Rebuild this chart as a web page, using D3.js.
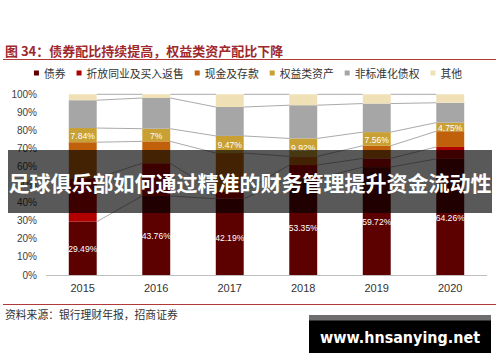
<!DOCTYPE html>
<html><head><meta charset="utf-8">
<script src="https://cdn.jsdelivr.net/npm/d3@7"></script>
<style>html,body{margin:0;padding:0;background:#fff;}svg{display:block;}</style>
</head><body>
<svg id="chart" width="500" height="362"></svg>
<script>
const years = ["2015","2016","2017","2018","2019","2020"];
const seriesNames = ["债券","折放同业及买入返售","现金及存款","权益类资产","非标准化债权","其他"];
const seriesColors = ["#5c0000","#b00000","#c0600a","#c9a033","#a6a6a6","#efe0b6"];
const bonds       = [29.49, 43.76, 42.19, 53.35, 59.72, 64.26];
const interbank   = [24.1, 18.1, 3.8, 7.5, 4.8, 6.6];
const cash        = [19.9, 12.1, 21.5, 4.8, 7.0, 8.7];
const equity      = [7.84, 7.0, 9.47, 9.92, 7.56, 4.75];
const nonStandard = [15.4, 17.0, 16.0, 18.4, 15.8, 11.0];
const others      = [3.27, 2.04, 7.04, 6.03, 5.12, 4.69];
const bondLabels   = ["29.49%","43.76%","42.19%","53.35%","59.72%","64.26%"];
const equityLabels = ["7.84%","7%","9.47%","9.92%","7.56%","4.75%"];
const yTicks = [0,10,20,30,40,50,60,70,80,90,100];
const titleText = "图 34：债券配比持续提高，权益类资产配比下降";
const sourceText = "资料来源：银行理财年报，招商证券";
const overlayText = "足球俱乐部如何通过精准的财务管理提升资金流动性";
const watermarkText = "www.hnsanying.net";

const svg = d3.select("#chart");
const seriesArrays = [bonds, interbank, cash, equity, nonStandard, others];
const rows = years.map((y,i)=>{
  const r = {year:y};
  seriesNames.forEach((s,k)=>r[s]=seriesArrays[k][i]);
  return r;
});
const stack = d3.stack().keys(seriesNames)(rows);

const x = d3.scaleBand().domain(years).range([46,487]).paddingInner(0.62).paddingOuter(0.31);
const y = d3.scaleLinear().domain([0,100]).range([275,94.3]);

// title
svg.append("text").attr("x",5).attr("y",50).attr("dominant-baseline","central")
  .attr("font-family","'Noto Sans CJK SC'").attr("font-weight","bold").attr("font-size",13)
  .attr("fill","#a0282c").text(titleText);
svg.append("line").attr("x1",3).attr("x2",496).attr("y1",59.5).attr("y2",59.5)
  .attr("stroke","#b03a3a").attr("stroke-width",1.2);

// legend
const lg = svg.append("g");
let lx = 0;
const items = [];
seriesNames.forEach((s,k)=>{
  const g = lg.append("g").attr("transform",`translate(${lx},0)`);
  g.append("rect").attr("x",0).attr("y",-2.5).attr("width",5).attr("height",5).attr("fill",seriesColors[k]);
  const t = g.append("text").attr("x",10).attr("y",0).attr("dominant-baseline","central")
    .attr("font-family","'Noto Sans CJK SC'").attr("font-size",10.8).attr("fill","#333").text(s);
  const w = t.node().getComputedTextLength();
  lx += 10 + w + 11;
});
const totalW = lx - 11;
lg.attr("transform",`translate(${248 - totalW/2},73)`);

// y axis labels
svg.append("g").selectAll("text").data(yTicks).join("text")
  .attr("x",37).attr("y",d=>y(d)).attr("text-anchor","end").attr("dominant-baseline","central")
  .attr("font-family","'Liberation Sans', Arial").attr("font-size",10).attr("fill","#404040")
  .text(d=>d+"%");

// bars
const layers = svg.append("g").selectAll("g").data(stack).join("g")
  .attr("fill",(d,k)=>seriesColors[k]);
layers.selectAll("rect").data(d=>d).join("rect")
  .attr("x",d=>x(d.data.year)).attr("width",x.bandwidth())
  .attr("y",d=>y(d[1])).attr("height",d=>y(d[0])-y(d[1]));

// series lines
const lineG = svg.append("g").attr("stroke","#a0a0a0").attr("stroke-width",0.9).attr("fill","none");
stack.forEach(layer=>{
  for(let i=0;i<years.length-1;i++){
    lineG.append("line")
      .attr("x1",x(years[i])+x.bandwidth()).attr("y1",y(layer[i][1]))
      .attr("x2",x(years[i+1])).attr("y2",y(layer[i+1][1]));
  }
});

// baseline
svg.append("line").attr("x1",46).attr("x2",487).attr("y1",275.5).attr("y2",275.5)
  .attr("stroke","#bfbfbf").attr("stroke-width",1);

// x labels
svg.append("g").selectAll("text").data(years).join("text")
  .attr("x",d=>x(d)+x.bandwidth()/2).attr("y",288).attr("text-anchor","middle").attr("dominant-baseline","central")
  .attr("font-family","'Liberation Sans', Arial").attr("font-size",11).attr("fill","#333").text(d=>d);

// data labels
const lblFont = {"font-family":"'Liberation Sans', Arial","font-size":8.6,"fill":"#fff"};
function addLabels(layerIdx, labels){
  const g = svg.append("g");
  g.selectAll("text").data(stack[layerIdx]).join("text")
    .attr("x",d=>x(d.data.year)+x.bandwidth()/2).attr("y",d=>(y(d[0])+y(d[1]))/2+1)
    .attr("text-anchor","middle").attr("dominant-baseline","central")
    .attr("font-family",lblFont["font-family"]).attr("font-size",lblFont["font-size"]).attr("fill",lblFont.fill)
    .text((d,i)=>labels[i]);
}
addLabels(0, bondLabels);
addLabels(3, equityLabels);

// bottom rule and source
svg.append("line").attr("x1",3).attr("x2",496).attr("y1",304.5).attr("y2",304.5)
  .attr("stroke","#b03a3a").attr("stroke-width",1.2);
svg.append("text").attr("x",5).attr("y",313.5).attr("dominant-baseline","central")
  .attr("font-family","'Noto Sans CJK SC'").attr("font-size",10.8).attr("fill","#333").text(sourceText);

// overlay band
svg.append("rect").attr("x",8).attr("y",150).attr("width",484).attr("height",63).attr("fill","rgba(0,0,0,0.65)");
svg.append("text").attr("x",250).attr("y",182).attr("text-anchor","middle").attr("dominant-baseline","central")
  .attr("font-family","'Noto Sans CJK SC'").attr("font-weight","bold").attr("font-size",21).attr("fill","#fff")
  .text(overlayText);

// watermark box
svg.append("rect").attr("x",309).attr("y",315).attr("width",182).attr("height",38).attr("fill","#000");
svg.append("rect").attr("x",309).attr("y",315).attr("width",182).attr("height",5.5).attr("fill","#6e6e6e");
svg.append("text").attr("x",400).attr("y",343).attr("text-anchor","middle")
  .attr("font-family","'DejaVu Sans'").attr("font-weight","bold").attr("font-size",16).attr("fill","#fff")
  .attr("textLength",160).attr("lengthAdjust","spacingAndGlyphs").text(watermarkText);
</script>
</body></html>
